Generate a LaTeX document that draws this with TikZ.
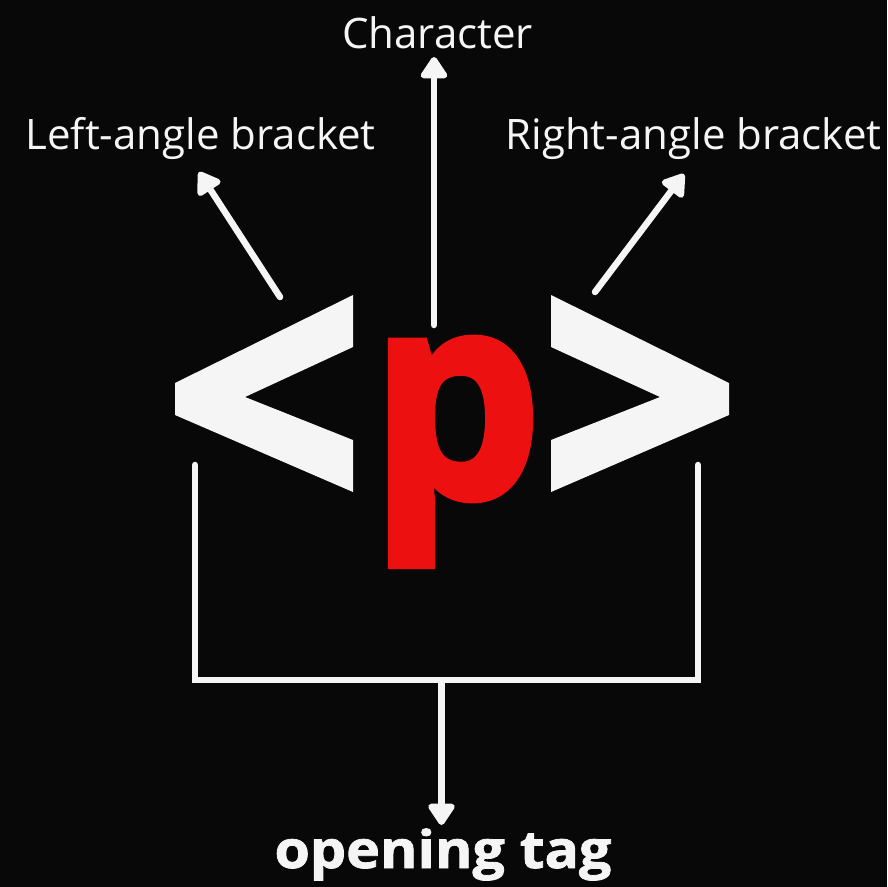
\documentclass[tikz,border=0pt]{standalone}
\usepackage{fontspec}
\setmainfont{Open Sans}
\usetikzlibrary{arrows.meta}
\definecolor{bg}{RGB}{8,8,8}
\definecolor{pred}{RGB}{237,16,16}
\definecolor{ink}{RGB}{245,245,245}
\tikzset{
  conn/.style={draw=ink, line width=6.5pt, line cap=round},
  arr/.style={conn, -{Triangle[width=30pt,length=24pt,round]}},
  lbl/.style={text=ink, inner sep=0pt, anchor=base, font=\fontsize{42}{42}\selectfont},
  glyph/.style={fill=ink, draw=none}
}
\begin{document}
\begin{tikzpicture}[x=1pt,y=-1pt]
\useasboundingbox (0,0) rectangle (887,887);
\fill[bg] (0,0) rectangle (887,887);

% angle brackets
\fill[glyph] (353,295) -- (175,383) -- (175,415) -- (353,492) -- (353,440) -- (245,397) -- (353,347) -- cycle;
\fill[glyph] (551,295) -- (729,383) -- (729,415) -- (551,492) -- (551,440) -- (660,397) -- (551,347) -- cycle;

% character
\node[text=pred, inner sep=0pt, anchor=base, font=\fontsize{280}{280}\selectfont\bfseries\addfontfeatures{FakeBold=2.5}] (p) at (456,497) {\scalebox{0.97}[1.02]{p}};

% labels
\node[lbl] (char) at (437.5,48) {Character};
\node[lbl] (left) at (200.5,149) {Left-angle bracket};
\node[lbl] (right) at (693.5,149) {Right-angle bracket};
\node[lbl, font=\fontsize{52}{52}\selectfont\bfseries\addfontfeatures{FakeBold=1.5}] (tag) at (443,868) {\scalebox{1.1}[1]{opening tag}};

% arrow coordinates
\coordinate (cA) at (434,325);
\coordinate (cB) at (434,57);
\coordinate (lA) at (280,297);
\coordinate (lB) at (199,172);
\coordinate (rA) at (595,292);
\coordinate (rB) at (684,174);
\coordinate (b1) at (195,465);
\coordinate (b2) at (195,680);
\coordinate (b3) at (698,680);
\coordinate (b4) at (698,465);
\coordinate (bm) at (441.5,680);
\coordinate (bt) at (441.5,825);

\draw[arr] (cA) -- (cB);
\draw[arr] (lA) -- (lB);
\draw[arr] (rA) -- (rB);
\draw[conn, line join=miter] (b1) -- (b2) -- (b3) -- (b4);
\draw[arr, line cap=butt] (bm) -- (bt);
\end{tikzpicture}
\end{document}
